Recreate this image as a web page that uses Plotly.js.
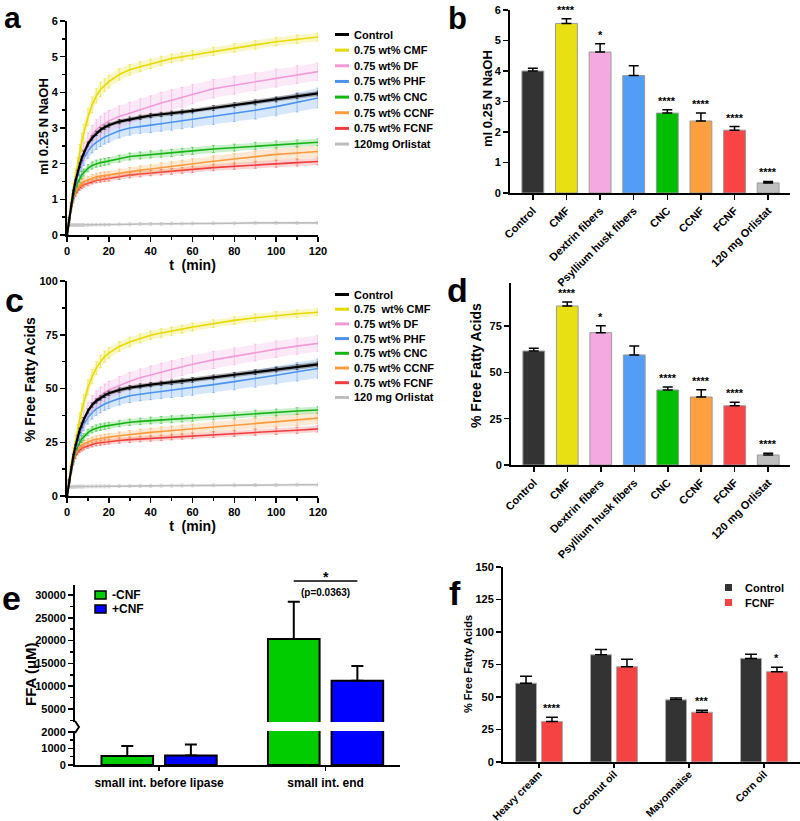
<!DOCTYPE html>
<html><head><meta charset="utf-8">
<script src="https://cdn.plot.ly/plotly-3.0.1.min.js"></script>
<style>html,body{margin:0;padding:0;background:#fff}#chart{width:800px;height:821px}</style>
</head><body><div id="chart"></div>
<script>
// ---------- DATA ----------
// time points (min) for panels a and c
const t = [0,1,2,3,4,5,6,7,8,10,12,14,16,18,20,25,30,35,40,45,50,55,60,70,80,90,100,110,120];

// panel a : ml 0.25 N NaOH (mean)
const aCtl  = [0,0.45,0.85,1.2,1.5,1.75,1.95,2.15,2.3,2.55,2.72,2.85,2.95,3.02,3.08,3.18,3.25,3.3,3.35,3.38,3.41,3.45,3.48,3.56,3.64,3.72,3.8,3.89,3.97];
const aCMF  = [0,0.5,0.9,1.3,1.65,1.95,2.3,2.6,2.85,3.3,3.65,3.9,4.08,4.2,4.3,4.5,4.63,4.72,4.8,4.88,4.95,5.0,5.05,5.15,5.25,5.33,5.42,5.49,5.55];
const aDF   = [0,0.45,0.85,1.2,1.5,1.75,1.97,2.17,2.33,2.6,2.8,2.95,3.05,3.13,3.2,3.32,3.42,3.52,3.6,3.7,3.78,3.86,3.95,4.1,4.2,4.3,4.4,4.5,4.58];
const aPHF  = [0,0.45,0.85,1.15,1.45,1.65,1.85,2.0,2.15,2.35,2.5,2.6,2.68,2.75,2.8,2.92,3.0,3.05,3.08,3.12,3.16,3.2,3.24,3.33,3.42,3.5,3.6,3.72,3.84];
const aCNC  = [0,0.4,0.8,1.05,1.3,1.45,1.58,1.68,1.75,1.87,1.95,2.0,2.03,2.05,2.07,2.14,2.2,2.23,2.26,2.28,2.3,2.33,2.36,2.41,2.45,2.5,2.54,2.57,2.6];
const aCCNF = [0,0.4,0.75,1.0,1.2,1.32,1.4,1.46,1.5,1.55,1.6,1.63,1.65,1.67,1.68,1.74,1.78,1.82,1.85,1.89,1.92,1.96,2.0,2.07,2.13,2.2,2.26,2.3,2.34];
const aFCNF = [0,0.4,0.75,0.98,1.15,1.25,1.32,1.37,1.41,1.45,1.5,1.53,1.55,1.57,1.59,1.64,1.68,1.71,1.74,1.76,1.78,1.81,1.84,1.89,1.93,1.97,2.0,2.03,2.06];
const aOrl  = [0.27,0.28,0.28,0.28,0.28,0.28,0.28,0.28,0.28,0.28,0.29,0.29,0.29,0.29,0.29,0.3,0.3,0.31,0.31,0.31,0.32,0.32,0.32,0.33,0.33,0.34,0.34,0.34,0.34];
// panel a : error (SD)
const aCtlE  = [0,0.03,0.04,0.05,0.05,0.06,0.06,0.06,0.06,0.06,0.06,0.06,0.06,0.06,0.06,0.06,0.06,0.06,0.06,0.06,0.06,0.06,0.06,0.07,0.07,0.07,0.07,0.07,0.07];
const aCMFE  = [0,0.05,0.1,0.15,0.2,0.22,0.24,0.25,0.25,0.24,0.22,0.2,0.2,0.18,0.18,0.16,0.15,0.14,0.13,0.13,0.12,0.12,0.12,0.12,0.12,0.12,0.12,0.12,0.12];
const aDFE   = [0,0.05,0.08,0.12,0.15,0.18,0.2,0.22,0.24,0.26,0.27,0.28,0.28,0.29,0.29,0.3,0.3,0.3,0.3,0.3,0.29,0.28,0.27,0.26,0.25,0.25,0.25,0.25,0.25];
const aPHFE  = [0,0.05,0.08,0.12,0.15,0.17,0.18,0.19,0.2,0.2,0.2,0.2,0.2,0.2,0.2,0.2,0.2,0.2,0.21,0.21,0.22,0.22,0.22,0.23,0.24,0.25,0.26,0.27,0.28];
const aCNCE  = [0,0.04,0.06,0.08,0.09,0.1,0.1,0.1,0.1,0.1,0.1,0.1,0.1,0.1,0.1,0.1,0.1,0.1,0.1,0.1,0.1,0.1,0.1,0.1,0.1,0.1,0.1,0.1,0.1];
const aCCNFE = [0,0.04,0.06,0.08,0.09,0.1,0.1,0.1,0.1,0.1,0.1,0.1,0.1,0.1,0.1,0.11,0.11,0.12,0.12,0.13,0.13,0.14,0.14,0.15,0.15,0.16,0.16,0.17,0.17];
const aFCNFE = [0,0.04,0.05,0.06,0.07,0.07,0.07,0.07,0.07,0.07,0.07,0.07,0.07,0.07,0.08,0.08,0.08,0.08,0.08,0.08,0.08,0.08,0.09,0.09,0.09,0.1,0.1,0.1,0.1];
const aOrlE  = [0.04,0.04,0.04,0.04,0.04,0.04,0.04,0.04,0.04,0.04,0.04,0.04,0.04,0.04,0.04,0.04,0.04,0.04,0.04,0.04,0.04,0.04,0.04,0.04,0.04,0.04,0.04,0.04,0.04];

// panel c : % free fatty acids (mean)
const cCtl  = [0,7,13,18.5,23,27,30.5,33,35.5,39.5,42.3,44.2,45.6,46.8,47.8,49.3,50.4,51.2,51.8,52.4,52.9,53.4,54,55.2,56.4,57.6,58.8,60,61.2];
const cCMF  = [0,8,14,20,25.5,30,35,39.5,43.5,50.5,55.5,59.5,62.5,64.8,66.5,69.5,71.6,73.3,74.8,75.8,76.6,77.6,78.6,80.2,81.7,82.9,84,84.8,85.5];
const cDF   = [0,7,13,18.5,23,27,30.5,33.3,35.8,39.8,42.8,45,46.7,48.1,49.3,51.5,53.4,55,56.4,57.6,58.8,60,61.3,63.3,65,66.7,68.3,69.7,71];
const cPHF  = [0,7,13,18,22.5,25.5,28.5,31,33.2,36.5,38.8,40.5,41.7,42.8,43.6,45.3,46.6,47.4,48,48.6,49.2,49.8,50.4,51.8,53.2,54.6,56.2,57.8,59.3];
const cCNC  = [0,6.5,12.5,16.5,20.5,23,25,26.5,27.5,29.5,30.8,31.6,32.1,32.5,32.8,33.7,34.3,34.7,35.1,35.4,35.7,36,36.3,37,37.6,38.3,38.9,39.5,40];
const cCCNF = [0,6.5,12,16,19.5,21.5,22.8,23.7,24.3,25.2,25.9,26.4,26.8,27.1,27.4,28,28.6,29.1,29.6,30,30.4,30.8,31.2,32.1,33,33.8,34.7,35.5,36.2];
const cFCNF = [0,6.5,12,15.5,18.5,20.3,21.4,22.1,22.6,23.4,24,24.5,24.8,25.1,25.3,25.8,26.2,26.5,26.8,27.1,27.4,27.7,28,28.6,29.1,29.6,30.1,30.6,31.2];
const cOrl  = [4.2,4.3,4.3,4.3,4.3,4.4,4.4,4.4,4.4,4.4,4.5,4.5,4.5,4.5,4.5,4.6,4.6,4.7,4.7,4.8,4.8,4.9,4.9,5.0,5.0,5.1,5.1,5.2,5.2];
// panel c : error
const cCtlE  = [0,0.5,0.7,0.8,0.9,1,1,1,1,1,1,1,1,1,1,1,1,1,1,1,1.1,1.1,1.1,1.1,1.1,1.1,1.1,1.2,1.2];
const cCMFE  = [0,0.8,1.5,2.3,3,3.3,3.5,3.6,3.6,3.5,3.3,3,2.8,2.6,2.5,2.3,2.2,2.1,2,2,1.9,1.9,1.9,1.8,1.8,1.8,1.8,1.8,1.8];
const cDFE   = [0,0.8,1.3,1.8,2.2,2.6,3,3.2,3.4,3.6,3.8,3.9,4,4,4,4.1,4.1,4.1,4.1,4.1,4.1,4,4,4,3.9,3.9,3.8,3.8,3.8];
const cPHFE  = [0,0.8,1.3,1.8,2.2,2.5,2.7,2.8,2.9,3,3,3,3,3,3,3,3.1,3.1,3.2,3.3,3.4,3.5,3.6,3.7,3.8,4,4.1,4.3,4.5];
const cCNCE  = [0,0.6,0.9,1.1,1.3,1.4,1.5,1.5,1.5,1.5,1.5,1.5,1.5,1.5,1.5,1.5,1.5,1.5,1.6,1.6,1.6,1.6,1.6,1.6,1.6,1.6,1.6,1.6,1.6];
const cCCNFE = [0,0.6,0.9,1.1,1.3,1.4,1.5,1.5,1.5,1.5,1.5,1.6,1.6,1.7,1.7,1.8,1.9,2,2,2.1,2.2,2.2,2.3,2.4,2.5,2.5,2.6,2.7,2.7];
const cFCNFE = [0,0.5,0.8,1,1.1,1.2,1.2,1.2,1.2,1.2,1.2,1.2,1.2,1.2,1.2,1.3,1.3,1.3,1.3,1.3,1.3,1.3,1.4,1.4,1.4,1.4,1.5,1.5,1.5];
const cOrlE  = [0.7,0.7,0.7,0.7,0.7,0.7,0.7,0.7,0.7,0.7,0.7,0.7,0.7,0.7,0.7,0.7,0.7,0.7,0.7,0.7,0.7,0.7,0.7,0.7,0.7,0.7,0.7,0.7,0.7];

const namesA = ["Control","0.75 wt% CMF","0.75 wt% DF","0.75 wt% PHF","0.75 wt% CNC","0.75 wt% CCNF","0.75 wt% FCNF","120mg Orlistat"];
const namesC = ["Control","0.75&nbsp; wt% CMF","0.75 wt% DF","0.75 wt% PHF","0.75 wt% CNC","0.75 wt% CCNF","0.75 wt% FCNF","120 mg Orlistat"];

// panels b and d
const barCats = ["Control","CMF","Dextrin fibers","Psyllium husk fibers","CNC","CCNF","FCNF","120 mg Orlistat"];
const bVals = [4.0,5.56,4.62,3.85,2.62,2.36,2.06,0.33];
const bErr  = [0.09,0.15,0.27,0.32,0.11,0.26,0.12,0.05];
const bSig  = ["","****","*","","****","****","****","****"];
const dVals = [61.5,85.8,71.4,59.4,40.5,36.7,32,5.4];
const dErr  = [1.5,2.2,3.8,4.8,1.6,3.9,1.8,0.9];
const dSig  = ["","****","*","","****","****","****","****"];

// panel e
const eCats   = ["small int. before lipase","small int. end"];
const eNeg    = [540, 20350];
const eNegErr = [600, 8190];
const ePos    = [580, 11214];
const ePosErr = [660, 3216];
const eNames  = ["-CNF","+CNF"];

// panel f
const fCats   = ["Heavy cream","Coconut oil","Mayonnaise","Corn oil"];
const fCtl    = [60.6,82.5,47.8,79.7];
const fCtlErr = [5.3,4.1,1.5,3.1];
const fFCNF   = [31.2,73.3,38.3,69.5];
const fFCNFErr= [3.3,5.7,1.6,3.3];
const fSig    = ["****","","***","*"];
const fNames  = ["Control","FCNF"];

// ---------- STYLE ----------
const W=800, H=821;
const fx = p => p/W;
const fy = p => 1 - p/H;
const FONT = 'Arial, "Liberation Sans", sans-serif';
const lineColors = ['#000000','#e6da00','#f29ad9','#4b92ef','#14b514','#ff9a3c','#f03c3c','#bdbdbd'];
const barColors  = ['#333333','#e8e012','#f5a9e1','#539df6','#00bf00','#ffa040','#f84444','#bfbfbf'];
function rgba(hex,a){const n=parseInt(hex.slice(1),16);return `rgba(${(n>>16)&255},${(n>>8)&255},${n&255},${a})`;}
const bold = (s)=>({family:FONT,size:s,color:'#000',weight:700});

const traces = [];
const shapes = [];
const annotations = [];

function timeSeries(xa, ya, means, errs){
  const order=[7,6,5,4,3,2,1,0];
  order.forEach(i=>{
    const c=lineColors[i];
    const up=means[i].map((v,k)=>v+errs[i][k]);
    const lo=means[i].map((v,k)=>v-errs[i][k]);
    traces.push({type:'scatter',mode:'lines',xaxis:xa,yaxis:ya,x:t.concat(t.slice().reverse()),
      y:up.concat(lo.slice().reverse()),fill:'toself',fillcolor:rgba(c,i===0?0.3:0.22),
      line:{width:0,color:rgba(c,0)},hoverinfo:'skip',showlegend:false});
    traces.push({type:'scatter',mode:'lines',xaxis:xa,yaxis:ya,x:t,y:means[i],
      line:{color:c,width:i===0?2.2:1.6},showlegend:false,
      error_y:{type:'data',array:errs[i],color:rgba(c,0.6),thickness:0.8,width:1.5}});
  });
}
timeSeries('x','y',[aCtl,aCMF,aDF,aPHF,aCNC,aCCNF,aFCNF,aOrl],[aCtlE,aCMFE,aDFE,aPHFE,aCNCE,aCCNFE,aFCNFE,aOrlE]);
timeSeries('x3','y3',[cCtl,cCMF,cDF,cPHF,cCNC,cCCNF,cFCNF,cOrl],[cCtlE,cCMFE,cDFE,cPHFE,cCNCE,cCCNFE,cFCNFE,cOrlE]);

// custom legends for a and c
function lineLegend(names, y0, step){
  names.forEach((n,i)=>{
    const yc=y0+i*step;
    shapes.push({type:'line',xref:'paper',yref:'paper',x0:fx(335),x1:fx(349),y0:fy(yc),y1:fy(yc),line:{color:lineColors[i],width:3}});
    annotations.push({xref:'paper',yref:'paper',x:fx(352),y:fy(yc),xanchor:'left',yanchor:'middle',text:n,showarrow:false,font:bold(11)});
  });
}
lineLegend(namesA, 34.5, 15.65);
lineLegend(namesC, 294.5, 14.7);

// bars b, d
const zeros = n => new Array(n).fill(0);
function catBars(xa, ya, vals, errs, sig){
  traces.push({type:'bar',xaxis:xa,yaxis:ya,x:barCats,y:vals,width:0.65,offset:-0.325,
    marker:{color:barColors,line:{color:'#9a9a9a',width:1}},showlegend:false,
    error_y:{type:'data',symmetric:false,array:errs,arrayminus:zeros(errs.length),color:'#000',thickness:1.5,width:5}});
  sig.forEach((s,i)=>{ if(s) annotations.push({xref:xa,yref:ya,x:i,y:vals[i]+errs[i],yanchor:'bottom',yshift:1,text:s,showarrow:false,font:bold(11)}); });
}
catBars('x2','y2',bVals,bErr,bSig);
catBars('x4','y4',dVals,dErr,dSig);

// bars e (broken axis: y5 lower, y6 upper)
const eW=0.31, eOff=[-0.346,0.036], eCol=['#00cc00','#0000ff'];
['y5','y6'].forEach(ya=>{
  [[eNeg,eNegErr],[ePos,ePosErr]].forEach(([v,e],k)=>{
    traces.push({type:'bar',xaxis:'x5',yaxis:ya,x:eCats,y:v,width:eW,offset:eOff[k],
      marker:{color:eCol[k],line:{color:'#000',width:2}},showlegend:false,
      error_y:{type:'data',symmetric:false,array:e,arrayminus:zeros(e.length),color:'#000',thickness:2,width:6}});
  });
});
// e legend
eNames.forEach((n,k)=>{
  const yc=595+k*14;
  shapes.push({type:'rect',xref:'paper',yref:'paper',x0:fx(95),x1:fx(106),y0:fy(yc+4),y1:fy(yc-4),fillcolor:eCol[k],line:{color:'#000',width:1.5}});
  annotations.push({xref:'paper',yref:'paper',x:fx(110),y:fy(yc),xanchor:'left',yanchor:'middle',text:n,showarrow:false,font:bold(12)});
});
// e significance bracket
const bx0 = 1+eOff[0]+eW/2, bx1 = 1+eOff[1]+eW/2;
shapes.push({type:'line',xref:'x5',yref:'paper',x0:bx0,x1:bx1,y0:fy(581),y1:fy(581),line:{color:'#000',width:1.5}});
annotations.push({xref:'x5',yref:'paper',x:(bx0+bx1)/2,y:fy(577),yanchor:'middle',text:'*',showarrow:false,font:bold(14)});
annotations.push({xref:'x5',yref:'paper',x:(bx0+bx1)/2,y:fy(592),yanchor:'middle',text:'(p=0.0363)',showarrow:false,font:bold(10)});
// axis break mark ( ">" shape between the two segments )
shapes.push({type:'path',xref:'paper',yref:'paper',
  path:`M ${fx(75)} ${fy(721)} L ${fx(79)} ${fy(727)} L ${fx(75)} ${fy(733)}`,line:{color:'#000',width:2}});
annotations.push({xref:'paper',yref:'paper',x:fx(30),y:fy(674),textangle:-90,text:'FFA (μM)',showarrow:false,font:bold(15),xanchor:'center',yanchor:'middle'});

// bars f
const fW=0.28, fOff=[-0.313,0.033], fCol=['#333333','#f54242'];
[[fCtl,fCtlErr],[fFCNF,fFCNFErr]].forEach(([v,e],k)=>{
  traces.push({type:'bar',xaxis:'x6',yaxis:'y7',x:fCats,y:v,width:fW,offset:fOff[k],
    marker:{color:fCol[k],line:{color:'#aaaaaa',width:1}},showlegend:false,
    error_y:{type:'data',symmetric:false,array:e,arrayminus:zeros(e.length),color:'#000',thickness:1.5,width:6}});
});
fSig.forEach((s,i)=>{ if(s) annotations.push({xref:'x6',yref:'y7',x:i+fOff[1]+fW/2,y:fFCNF[i]+fFCNFErr[i],yanchor:'bottom',yshift:1,text:s,showarrow:false,font:bold(11)}); });
fNames.forEach((n,k)=>{
  const yc=587.5+k*15;
  shapes.push({type:'rect',xref:'paper',yref:'paper',x0:fx(725),x1:fx(732),y0:fy(yc+3.5),y1:fy(yc-3.5),fillcolor:fCol[k],line:{width:0}});
  annotations.push({xref:'paper',yref:'paper',x:fx(743),y:fy(yc),xanchor:'left',yanchor:'middle',text:n,showarrow:false,font:bold(11)});
});

// y-axis titles (rotated text beside each axis)
[['ml 0.25 N NaOH',44,127,13],['ml 0.25 N NaOH',487,99,13],['% Free Fatty Acids',30,380,14],
 ['% Free Fatty Acids',476,366,14],['% Free Fatty Acids',468,664,11]].forEach(([txt,x,y,s])=>{
  annotations.push({xref:'paper',yref:'paper',x:fx(x),y:fy(y),textangle:-90,text:txt,showarrow:false,font:bold(s),xanchor:'center',yanchor:'middle'});
});

// panel letters (a and b anchored to the top edge so they stay inside the page)
annotations.push({xref:'paper',yref:'paper',x:fx(3),y:1,xanchor:'left',yanchor:'top',text:'a',showarrow:false,font:bold(30),borderpad:0});
annotations.push({xref:'paper',yref:'paper',x:fx(447),y:1,xanchor:'left',yanchor:'top',text:'b',showarrow:false,font:bold(31),borderpad:0});
[['c',3,300],['d',445,290],['e',0,598],['f',447,593]].forEach(([l,x,y])=>{
  annotations.push({xref:'paper',yref:'paper',x:fx(x),y:fy(y),xanchor:'left',yanchor:'middle',text:l,showarrow:false,font:bold(34)});
});

// ---------- AXES ----------
const ax = (o)=>Object.assign({showline:true,linecolor:'#000',linewidth:2,ticks:'outside',ticklen:5,tickwidth:1.5,tickcolor:'#000',
  showgrid:false,zeroline:false,tickfont:bold(11),fixedrange:true,automargin:false},o);
const minor = (o)=>Object.assign({ticks:'outside',ticklen:3,tickwidth:1.5,tickcolor:'#000'},o);

const layout = {
  width:W,height:H,margin:{l:0,r:0,t:0,b:0},paper_bgcolor:'#fff',plot_bgcolor:'rgba(0,0,0,0)',
  showlegend:false,barmode:'overlay',font:{family:FONT,color:'#000'},
  xaxis: ax({domain:[fx(67),fx(318)],range:[0,120],tickvals:[0,20,40,60,80,100,120],anchor:'y',minor:minor({dtick:10}),
    title:{text:'t&nbsp; (min)',font:bold(14),standoff:3}}),
  yaxis: ax({domain:[fy(235),fy(21)],range:[0,6],dtick:1,anchor:'x',minor:minor({dtick:0.5})}),
  xaxis2: ax({domain:[fx(510),fx(790)],range:[-0.68,7.65],anchor:'y2',tickangle:-45,type:'category'}),
  yaxis2: ax({domain:[fy(193),fy(10)],range:[0,6],dtick:1,anchor:'x2'}),
  xaxis3: ax({domain:[fx(67),fx(318)],range:[0,120],tickvals:[0,20,40,60,80,100,120],anchor:'y3',minor:minor({dtick:10}),
    title:{text:'t&nbsp; (min)',font:bold(14),standoff:3}}),
  yaxis3: ax({domain:[fy(496),fy(281)],range:[0,100],dtick:25,anchor:'x3',minor:minor({dtick:12.5})}),
  xaxis4: ax({domain:[fx(511),fx(790)],range:[-0.68,7.65],anchor:'y4',tickangle:-45,type:'category'}),
  yaxis4: ax({domain:[fy(465),fy(283)],range:[0,98.2],tickvals:[0,25,50,75],anchor:'x4'}),
  xaxis5: ax({domain:[fx(75),fx(400)],range:[-0.505,1.447],anchor:'y5',ticklen:4,type:'category',tickfont:bold(12),ticklabelstandoff:2}),
  yaxis5: ax({domain:[fy(765),fy(731)],range:[0,2050],tickvals:[0,1000,2000],tickformat:'d',anchor:'x5',minor:minor({tickvals:[500,1500]})}),
  yaxis6: ax({domain:[fy(722),fy(585)],range:[2150,32200],tickvals:[5000,10000,15000,20000,25000,30000],tickformat:'d',anchor:'x5',minor:minor({dtick:2500,tick0:0})}),
  xaxis6: ax({domain:[fx(503),fx(800)],range:[-0.48,3.48],anchor:'y7',ticklen:4,tickangle:-45,type:'category',tickfont:bold(10.5),ticklabelstandoff:-4}),
  yaxis7: ax({domain:[fy(762),fy(567)],range:[0,150],dtick:25,anchor:'x6'}),
  shapes, annotations
};
Plotly.newPlot('chart',traces,layout,{displayModeBar:false,staticPlot:true});
</script></body></html>
